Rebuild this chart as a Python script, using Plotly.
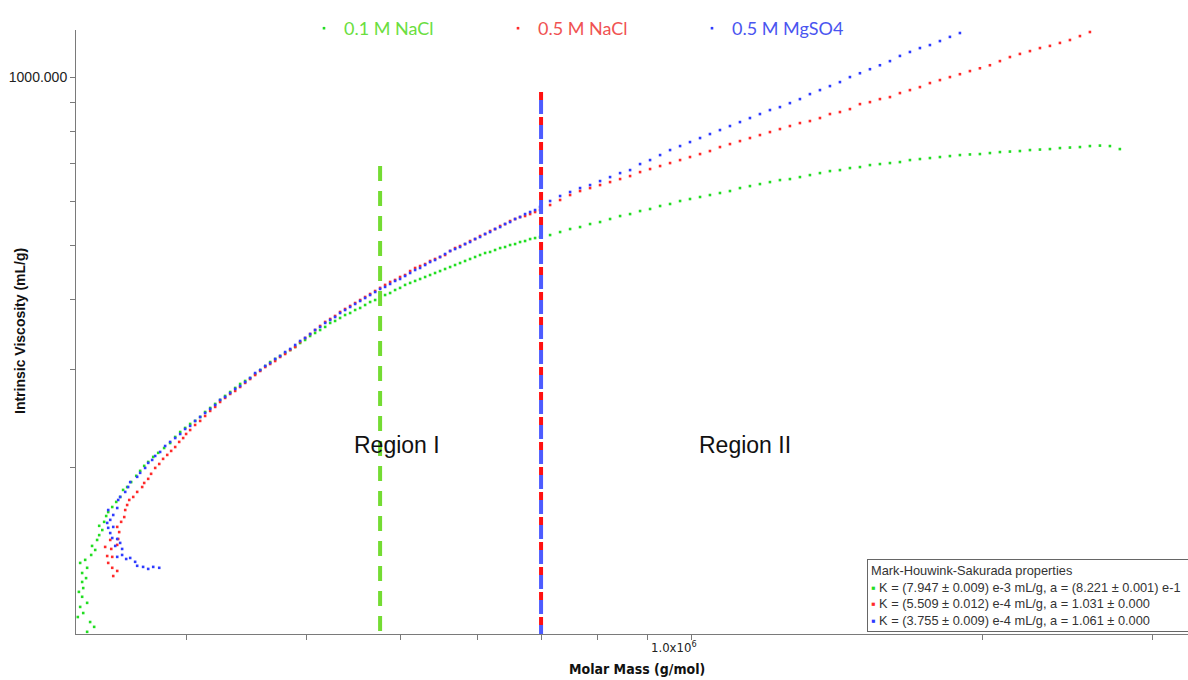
import math
import plotly.graph_objects as go

# ---------------- data ----------------
SERIES_NAMES = ["0.1 M NaCl", "0.5 M NaCl", "0.5 M MgSO4"]

# low-molar-mass (noisy) part of each series
M_LOW_G = [237000, 241000, 238700, 231800, 234800, 233100, 237000, 234200, 232400, 234800,
           234200, 236400, 234200, 237000, 233100, 235900, 239300, 241600, 239800, 242700,
           243900, 245700, 243900, 246800, 248000, 249200, 251600, 254000, 256400, 258200,
           260700, 263200, 266400, 268900, 271500, 274100, 277400, 280700, 284700, 288800,
           292300, 295800, 299300]
ETA_LOW_G = [101.7, 103.8, 105.9, 108.1, 109.9, 112.7, 114.6, 117.5, 119.9, 121.8,
             124.9, 126.9, 129.6, 132.4, 135.1, 136.8, 139.6, 142.5, 144.9, 148.5,
             151.5, 154.7, 157.4, 160.0, 163.9, 166.6, 170.1, 173.7, 177.3, 182.5,
             184.7, 188.5, 193.4, 197.4, 201.5, 204.8, 209.1, 212.6, 216.9, 221.4,
             227.0, 231.7, 235.6]

M_LOW_R = [252200, 251600, 254600, 249200, 248600, 251600, 247400, 251000, 254600, 250400,
           255200, 255800, 254600, 257000, 258900, 259500, 260700, 262000, 264500, 267000,
           270200, 271500, 274100, 276000, 278700, 281400, 284000, 286800, 289500, 292300,
           295100, 297900, 300000]
ETA_LOW_R = [128.0, 132.4, 130.7, 135.1, 139.0, 138.5, 144.3, 143.1, 145.5, 148.5,
             149.1, 153.4, 156.7, 160.0, 163.2, 168.0, 171.5, 175.1, 177.3, 181.0,
             184.7, 187.8, 191.0, 195.0, 199.8, 203.1, 207.4, 210.8, 214.3, 217.8,
             222.4, 226.0, 229.8]

M_LOW_B = [281400, 277400, 274100, 270800, 267000, 265700, 262600, 260100, 257600, 254600,
           257600, 253400, 256400, 254600, 251600, 250400, 249200, 252200, 248600, 250400,
           252200, 249200, 254600, 255200, 256400, 259500, 261300, 262600, 267000, 268900,
           272100, 274100, 276700, 278700, 282000, 285400, 288800, 292300, 295800, 299300]
ETA_LOW_B = [132.4, 132.9, 131.8, 132.9, 133.5, 135.7, 137.9, 137.3, 139.6, 138.5,
             143.1, 144.9, 146.7, 149.1, 149.7, 152.8, 156.1, 156.7, 159.3, 161.3,
             164.6, 168.0, 169.4, 175.1, 177.3, 181.0, 184.7, 188.5, 192.6, 195.8,
             199.8, 204.0, 206.5, 209.9, 213.4, 218.7, 222.4, 226.0, 229.8, 234.6]

# middle part (shared molar-mass positions)
M_MID = [302900, 306500, 310200, 313900, 317700, 321500, 325300, 329200, 333200, 337200,
         341200, 345300, 349400, 353600, 357900, 362200, 366500, 370900, 375300, 379800,
         384400, 389000, 393600, 398300, 403100, 407900, 412800, 417800, 422800, 427800,
         432900, 438100, 443400, 448700, 454100, 459500, 465000, 470600, 476200, 481900,
         487700, 493500, 499400, 505400, 511500, 517600, 523800, 530100, 536400, 542800,
         549300, 555900, 562600, 569300, 576100, 583000, 590000, 597100, 604200, 611500,
         618800, 626200, 633800, 641300, 649000, 656800, 664600, 672600, 680700, 688800,
         697000]
ETA_MID_G = [239.5, 242.5, 246.5, 251.6, 255.8, 260.1, 264.4, 268.8, 273.2, 277.8,
             282.4, 285.9, 289.4, 294.2, 299.1, 304.1, 309.1, 313.0, 316.9, 320.8,
             324.8, 328.9, 334.3, 338.5, 344.1, 348.4, 352.7, 357.2, 363.1, 366.1,
             370.6, 375.2, 378.3, 383.0, 386.2, 391.0, 395.8, 399.1, 404.1, 407.4,
             410.8, 415.9, 419.5, 424.7, 428.2, 431.7, 435.2, 438.8, 442.4, 446.1,
             449.7, 453.5, 457.2, 461.0, 464.8, 468.7, 472.6, 476.5, 480.4, 484.4,
             486.4, 490.4, 494.4, 496.5, 500.6, 502.6, 506.8, 508.9, 513.1, 515.2,
             517.4]
ETA_MID_R = [233.6, 238.5, 242.5, 247.5, 252.7, 256.9, 262.2, 266.6, 271.0, 274.4,
             278.9, 283.6, 288.2, 293.0, 297.9, 302.8, 306.6, 310.4, 315.6, 319.5,
             324.8, 328.9, 335.7, 341.3, 346.9, 352.7, 358.6, 364.6, 369.1, 373.7,
             379.9, 384.6, 389.4, 394.2, 399.1, 404.1, 409.1, 414.2, 419.5, 424.7,
             429.9, 433.5, 438.8, 442.4, 449.7, 455.4, 459.1, 462.9, 468.7, 472.6,
             476.5, 480.4, 488.4, 494.4, 498.5, 502.6, 508.9, 513.1, 519.5, 523.8,
             530.3, 534.7, 541.4, 545.8, 552.6, 557.2, 561.8, 564.1, 568.7, 573.5,
             578.2]
ETA_MID_B = [237.6, 242.5, 246.5, 250.6, 254.8, 259.0, 264.4, 267.7, 272.1, 276.7,
             280.1, 284.7, 289.4, 295.4, 299.1, 304.1, 307.9, 313.0, 316.9, 322.1,
             326.2, 331.6, 337.1, 341.3, 346.9, 352.7, 357.2, 363.1, 367.6, 372.1,
             378.3, 383.0, 387.8, 392.6, 397.5, 402.4, 407.4, 412.5, 417.7, 421.2,
             426.4, 431.7, 435.2, 440.6, 446.1, 451.6, 455.4, 461.0, 466.7, 470.6,
             476.5, 482.4, 488.4, 492.4, 496.5, 502.6, 506.8, 513.1, 517.4, 523.8,
             528.1, 534.7, 539.1, 545.8, 550.3, 557.2, 561.8, 568.7, 573.5, 578.2,
             585.5]

# upper part (shared molar-mass positions; each series uses as many as it has)
M_UP = [713900, 731100, 748700, 766700, 785200, 804100, 823500, 843400, 863700, 884500,
        905800, 927700, 950000, 972900, 996200, 1020300, 1044700, 1069900, 1095700, 1122100,
        1149100, 1176800, 1205200, 1234200, 1263900, 1294400, 1325600, 1357600, 1390300, 1423800,
        1458100, 1493300, 1529300, 1566100, 1603900, 1642500, 1682100, 1722600, 1764100, 1806700,
        1850200, 1894800, 1940500, 1987200, 2035100, 2084200, 2134400, 2185800, 2238700, 2292600,
        2347800, 2404400, 2462400, 2521800, 2582400, 2644800, 2708500, 2773300]
ETA_UP_G = [521.6, 528.1, 534.7, 539.1, 545.8, 550.3, 557.2, 564.1, 568.7, 575.8,
            580.7, 587.9, 592.8, 600.1, 605.1, 610.1, 615.1, 620.2, 625.3, 633.0,
            638.2, 643.5, 648.8, 654.2, 656.9, 662.3, 667.8, 673.3, 678.9, 681.7,
            687.4, 690.2, 695.9, 698.8, 701.7, 704.6, 710.4, 713.4, 716.3, 719.3,
            722.2, 725.2, 727.0, 728.2, 731.2, 734.2, 735.7, 737.3, 740.3, 741.8,
            743.3, 746.4, 748.0, 749.5, 752.6, 754.0, 752.6, 743.3]
ETA_UP_R = [590.3, 602.6, 615.1, 625.3, 633.0, 640.9, 648.8, 656.9, 665.1, 676.1,
            684.6, 693.1, 701.7, 710.4, 719.3, 728.2, 737.3, 749.5, 758.8, 768.2,
            777.9, 787.5, 797.3, 807.2, 817.3, 827.4, 834.3, 844.7, 858.7, 865.8,
            876.4, 894.6, 902.0, 913.3, 920.9, 936.2, 947.8, 959.6, 975.6, 987.7,
            1000, 1012, 1025, 1037, 1050, 1068, 1086, 1100, 1113, 1127,
            1137, 1151, 1165, 1184, 1204]
ETA_UP_B = [600.1, 612.6, 622.8, 633.0, 640.9, 651.5, 662.3, 673.3, 681.7, 698.8,
            710.4, 725.2, 740.3, 752.6, 765.1, 777.9, 790.8, 803.9, 817.3, 830.8,
            844.7, 858.7, 873.0, 883.7, 898.3, 913.3, 932.3, 947.8, 963.6, 979.6,
            1000, 1016, 1033, 1050, 1068, 1091, 1109, 1127, 1141, 1160,
            1180, 1199]

# region boundaries (molar mass) and the top of each boundary line (intrinsic viscosity)
REGION_BOUNDS = [476200, 698700]
REGION_TOPS = [693.0, 940.0]
REGION_LABELS = ["Region I", "Region II"]
REGION_LABEL_M = [495800, 1135000]
REGION_LABEL_ETA = 219.6

# axes
X_RANGE_M = [230800, 3262000]
Y_RANGE_ETA = [100.8, 1214.0]
Y_MAJOR = [1000]
Y_MINOR = [200, 300, 400, 500, 600, 700, 800, 900]
X_TICKS = [300000, 400000, 500000, 600000, 700000, 800000, 900000, 1000000, 2000000, 3000000]
X_LABEL_VAL = 1000000

# Mark-Houwink-Sakurada fit results
MHS_TITLE = "Mark-Houwink-Sakurada properties"
MHS_LINES = ["K = (7.947 ± 0.009) e-3 mL/g, a = (8.221 ± 0.001) e-1",
             "K = (5.509 ± 0.012) e-4 mL/g, a = 1.031 ± 0.000",
             "K = (3.755 ± 0.009) e-4 mL/g, a = 1.061 ± 0.000"]

# ---------------- styling ----------------
DOT_COLORS = ["#22dd22", "#ff2a2a", "#2f3cff"]
TEXT_COLORS = ["#6ade40", "#f05252", "#4a55f0"]
AXIS_COLOR = "#7a7a7a"
FONT = "Liberation Sans, Arial, sans-serif"
NARROW = "Liberation Sans Narrow, DejaVu Sans Condensed, Arial Narrow, sans-serif"

fig = go.Figure()

series_data = [
    (M_LOW_G + M_MID + M_UP[:len(ETA_UP_G)], ETA_LOW_G + ETA_MID_G + ETA_UP_G),
    (M_LOW_R + M_MID + M_UP[:len(ETA_UP_R)], ETA_LOW_R + ETA_MID_R + ETA_UP_R),
    (M_LOW_B + M_MID + M_UP[:len(ETA_UP_B)], ETA_LOW_B + ETA_MID_B + ETA_UP_B),
]
for name, (xs, ys), dc, tc in zip(SERIES_NAMES, series_data, DOT_COLORS, TEXT_COLORS):
    fig.add_trace(go.Scatter(
        x=xs, y=ys, mode="markers",
        marker=dict(symbol="square", size=2.6, color=dc, line=dict(width=0)),
        name=f'<span style="color:{tc}">{name}</span>',
        hoverinfo="skip",
    ))

y_bottom = Y_RANGE_ETA[0]
# Region I boundary: green dashed line
fig.add_trace(go.Scatter(
    x=[REGION_BOUNDS[0], REGION_BOUNDS[0]], y=[REGION_TOPS[0], y_bottom], mode="lines",
    line=dict(color="#74dc33", width=4, dash="15px,10px"), showlegend=False, hoverinfo="skip"))
# Region II boundary: alternating red / blue dashed line
fig.add_trace(go.Scatter(
    x=[REGION_BOUNDS[1], REGION_BOUNDS[1]], y=[REGION_TOPS[1], y_bottom], mode="lines",
    line=dict(color="#ff1010", width=4, dash="8px,17px"), showlegend=False, hoverinfo="skip"))
fig.add_trace(go.Scatter(
    x=[REGION_BOUNDS[1], REGION_BOUNDS[1]], y=[REGION_TOPS[1], y_bottom], mode="lines",
    line=dict(color="#4d5cff", width=4, dash="0px,8px,14px,3px"), showlegend=False, hoverinfo="skip"))

W, H = 1188, 680
L, R, T, B = 76, 0, 30, 46
pw, ph = W - L - R, H - T - B


def px_x(px):
    return (px - L) / pw


def px_y(py):
    return (H - B - py) / ph


annotations = []
for lab, m in zip(REGION_LABELS, REGION_LABEL_M):
    annotations.append(dict(x=math.log10(m), y=math.log10(REGION_LABEL_ETA), xref="x", yref="y",
                            text=lab, showarrow=False, font=dict(family=FONT, size=23, color="#111"),
                            xanchor="center", yanchor="middle"))

annotations.append(dict(x=math.log10(X_LABEL_VAL), y=0, xref="x", yref="paper",
                        text="1.0x10<sup>6</sup>", showarrow=False, xanchor="right", yanchor="top",
                        xshift=7, yshift=-3, font=dict(family=NARROW, size=13, color="#222")))
annotations.append(dict(x=px_x(637), y=px_y(669), xref="paper", yref="paper",
                        text="<b>Molar Mass (g/mol)</b>", showarrow=False,
                        xanchor="center", yanchor="middle",
                        font=dict(family=NARROW, size=14, color="#111")))
annotations.append(dict(x=px_x(20), y=px_y(331), xref="paper", yref="paper",
                        text="<b>Intrinsic Viscosity (mL/g)</b>", showarrow=False, textangle=-90,
                        xanchor="center", yanchor="middle",
                        font=dict(family=FONT, size=14, color="#111")))

mhs_text = MHS_TITLE + "".join(
    f'<br><span style="color:{c}">▪</span> {line}' for c, line in zip(DOT_COLORS, MHS_LINES))
annotations.append(dict(x=px_x(867), y=px_y(559), xref="paper", yref="paper",
                        text=mhs_text, showarrow=False, xanchor="left", yanchor="top",
                        align="left", width=336, bordercolor="#666", borderwidth=1, borderpad=3,
                        bgcolor="white", font=dict(family=FONT, size=12.8, color="#333")))

fig.update_layout(
    width=W, height=H,
    margin=dict(l=L, r=R, t=T, b=B, pad=0, autoexpand=False),
    paper_bgcolor="white", plot_bgcolor="white",
    showlegend=True,
    legend=dict(orientation="h", xref="container", yref="container",
                x=304 / W, y=1 - 10 / H, xanchor="left", yanchor="top",
                font=dict(family="Lato, Open Sans, sans-serif", size=18),
                entrywidth=149, entrywidthmode="pixels", bgcolor="rgba(0,0,0,0)",
                itemclick=False, itemdoubleclick=False),
    annotations=annotations,
    xaxis=dict(type="log", range=[math.log10(v) for v in X_RANGE_M],
               tickvals=X_TICKS, showticklabels=False,
               ticks="outside", ticklen=5, tickcolor=AXIS_COLOR, tickwidth=1,
               showline=True, linecolor=AXIS_COLOR, linewidth=1,
               showgrid=False, zeroline=False, mirror=False),
    yaxis=dict(type="log", range=[math.log10(v) for v in Y_RANGE_ETA],
               tickvals=Y_MAJOR, ticktext=["1000.000"],
               ticks="outside", ticklen=5, tickcolor=AXIS_COLOR, tickwidth=1,
               minor=dict(tickvals=Y_MINOR, ticks="outside", ticklen=5,
                          tickcolor=AXIS_COLOR, tickwidth=1, showgrid=False),
               showline=True, linecolor=AXIS_COLOR, linewidth=1,
               showgrid=False, zeroline=False, mirror=False,
               tickfont=dict(family=FONT, size=14, color="#222")),
)

fig.write_html("out.html")
